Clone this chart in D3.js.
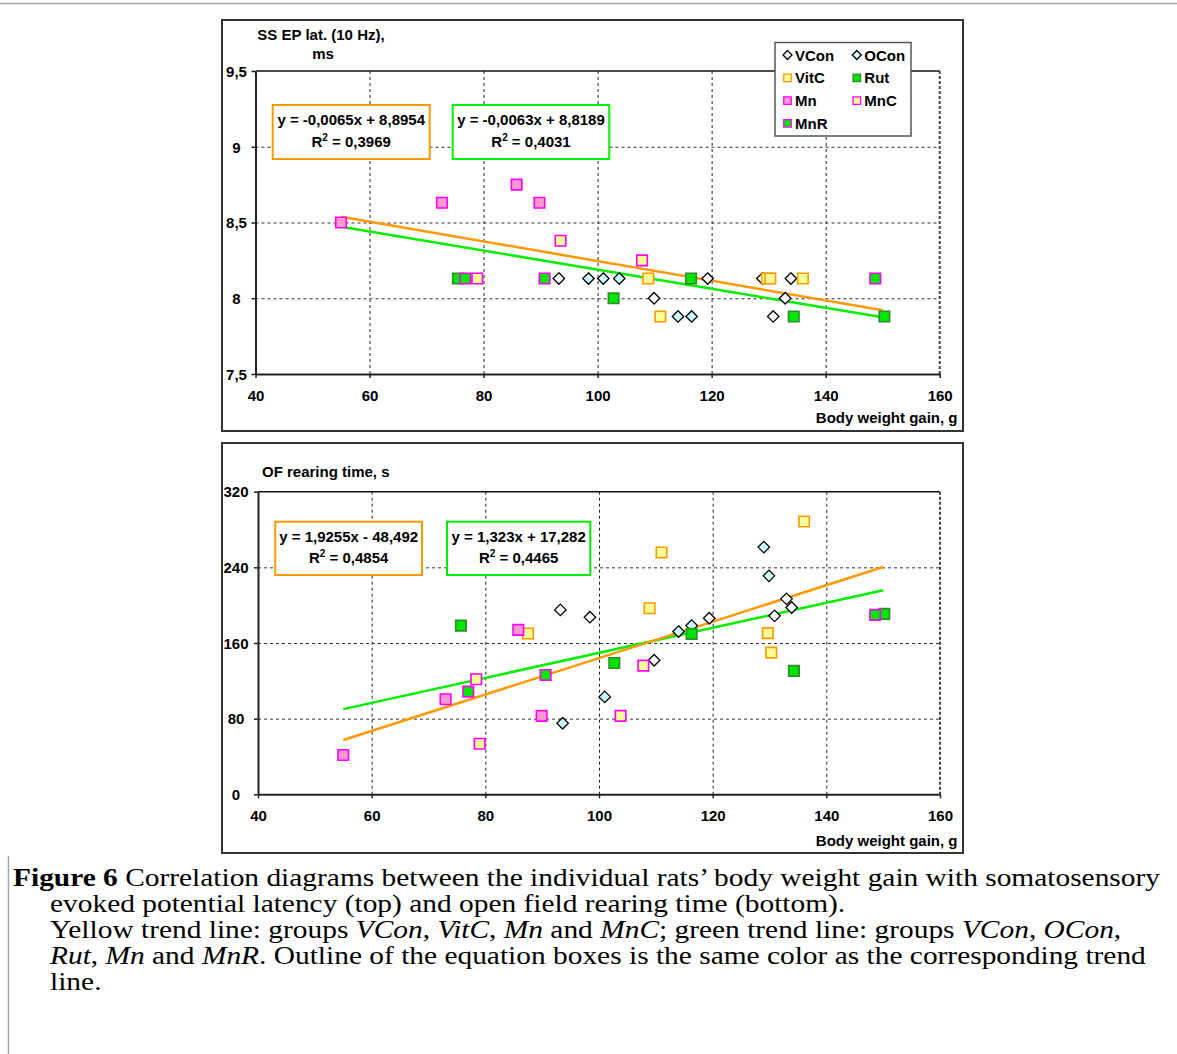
<!DOCTYPE html>
<html>
<head>
<meta charset="utf-8">
<script src="https://cdn.jsdelivr.net/npm/d3@7"></script>
<style>
  html, body { margin: 0; padding: 0; background: #fff; }
  svg { display: block; }
</style>
</head>
<body>
<svg id="fig" width="1177" height="1054"></svg>
<script>
// ---- data: [body weight gain (g), value] per group ----
// Top panel: SS EP latency (10 Hz), ms
const latVCon = [[93.2, 8.13], [119.3, 8.13], [128.9, 8.13], [133.9, 8.13], [109.9, 8.0], [132.9, 8.0], [130.8, 7.88]];
const latOCon = [[98.4, 8.13], [101.0, 8.13], [103.8, 8.13], [114.1, 7.88], [116.5, 7.88]];
const latVitC = [[108.9, 8.13], [129.7, 8.13], [130.3, 8.13], [136.0, 8.13], [111.0, 7.88]];
const latRut  = [[75.5, 8.13], [116.4, 8.13], [102.8, 8.0], [134.4, 7.88], [150.3, 7.88]];
const latMn   = [[55.0, 8.5], [72.7, 8.63], [85.8, 8.75], [89.8, 8.63]];
const latMnC  = [[78.9, 8.13], [93.5, 8.38], [107.8, 8.25]];
const latMnR  = [[76.8, 8.13], [90.7, 8.13], [148.7, 8.13]];

// Bottom panel: OF rearing time, s
const rearVCon = [[93.2, 195], [98.4, 187.3], [109.7, 141.8], [119.4, 186.2], [130.9, 188.7], [133.0, 206.7], [133.9, 197.5]];
const rearOCon = [[93.6, 75.1], [101.0, 103], [114.0, 172.1], [116.3, 178.4], [129.0, 261.4], [129.9, 231]];
const rearVitC = [[87.5, 170], [108.9, 196.8], [111.0, 255.7], [129.7, 170.4], [130.3, 149.8], [136.1, 288.5]];
const rearRut  = [[75.7, 178.4], [102.7, 138.9], [116.3, 169.6], [134.3, 130.5], [150.2, 190.8]];
const rearMn   = [[55.0, 41.6], [73.0, 100.5], [85.8, 173.9], [89.9, 82.9]];
const rearMnC  = [[78.4, 121.7], [79.0, 53.5], [103.8, 82.9], [107.8, 136.1]];
const rearMnR  = [[77.0, 108.6], [90.6, 126.2], [148.6, 189.7]];

// Linear trends [orange, green]: slope, intercept, labels
const latSlope = [-0.0065, -0.0063];
const latIntercept = [8.8954, 8.8189];
const latEquation = ["y = -0,0065x + 8,8954", "y = -0,0063x + 8,8189"];
const latR2 = ["0,3969", "0,4031"];
const rearSlope = [1.9255, 1.323];
const rearIntercept = [-48.492, 17.282];
const rearEquation = ["y = 1,9255x - 48,492", "y = 1,323x + 17,282"];
const rearR2 = ["0,4854", "0,4465"];
const trendSpan = [55, 150];

// Axis ticks
const xTicks = [40, 60, 80, 100, 120, 140, 160];
const latTicks = [7.5, 8, 8.5, 9, 9.5];
const rearTicks = [0, 80, 160, 240, 320];

const groups = ["VCon", "OCon", "VitC", "Rut", "Mn", "MnC", "MnR"];

// ---- styling ----
const ORANGE = "#ff9900", GREEN = "#00ee00";
const groupStyle = {
  VCon: { shape: "diamond", fill: "#ffffff", stroke: "#000000" },
  OCon: { shape: "diamond", fill: "#ccffff", stroke: "#000000" },
  VitC: { shape: "square", fill: "#ffff99", stroke: "#ff9900" },
  Rut:  { shape: "square", fill: "#00e600", stroke: "#2e8b2e" },
  Mn:   { shape: "square", fill: "#ff99cc", stroke: "#ff00ff" },
  MnC:  { shape: "square", fill: "#ffff99", stroke: "#ff00ff" },
  MnR:  { shape: "square", fill: "#00e600", stroke: "#ff00ff" }
};
const SANS = "'Liberation Sans', Arial, Helvetica, sans-serif";
const SERIF = "'Liberation Serif', 'Times New Roman', serif";
const commaNum = d => String(d).replace(".", ",");

const svg = d3.select("#fig");

// page rules
svg.append("line").attr("x1", 0).attr("x2", 1177).attr("y1", 3.5).attr("y2", 3.5)
  .attr("stroke", "#a8a8a8").attr("stroke-width", 1.5);
svg.append("line").attr("x1", 8.5).attr("x2", 8.5).attr("y1", 856).attr("y2", 1054)
  .attr("stroke", "#a8a8a8").attr("stroke-width", 1.5);

function markerPath(shape, size) {
  const h = size / 2;
  if (shape === "diamond") {
    // square turned by 45 degrees; size = tip-to-tip width
    return `M0,${-h}L${h},0L0,${h}L${-h},0Z`;
  }
  return `M${-h},${-h}H${h}V${h}H${-h}Z`;
}

function drawPanel(cfg) {
  const g = svg.append("g");
  const x = d3.scaleLinear().domain([40, 160]).range([cfg.left, cfg.right]);
  const y = d3.scaleLinear().domain([cfg.yTicks[0], cfg.yTicks[cfg.yTicks.length - 1]])
    .range([cfg.bottom, cfg.top]);

  // chart frame
  g.append("rect")
    .attr("x", cfg.frame[0]).attr("y", cfg.frame[1])
    .attr("width", cfg.frame[2] - cfg.frame[0]).attr("height", cfg.frame[3] - cfg.frame[1])
    .attr("fill", "#fff").attr("stroke", "#333").attr("stroke-width", 2);

  // dashed grid
  g.selectAll(".vgrid").data(xTicks.slice(1, -1)).join("line")
    .attr("x1", d => x(d) + 0.5).attr("x2", d => x(d) + 0.5)
    .attr("y1", cfg.top).attr("y2", cfg.bottom)
    .attr("stroke", "#222").attr("stroke-width", 1).attr("stroke-dasharray", "3,3");
  g.selectAll(".hgrid").data(cfg.yTicks.slice(1, -1)).join("line")
    .attr("x1", cfg.left).attr("x2", cfg.right)
    .attr("y1", d => y(d) + 0.5).attr("y2", d => y(d) + 0.5)
    .attr("stroke", "#333").attr("stroke-width", 1).attr("stroke-dasharray", "3,3");

  // plot area border: solid top, dashed right
  g.append("line").attr("x1", cfg.left).attr("x2", cfg.right)
    .attr("y1", cfg.top).attr("y2", cfg.top)
    .attr("stroke", "#111").attr("stroke-width", 1.5);
  g.append("line").attr("x1", cfg.right).attr("x2", cfg.right)
    .attr("y1", cfg.top).attr("y2", cfg.bottom)
    .attr("stroke", "#444").attr("stroke-width", 2).attr("stroke-dasharray", "3,2");

  // trend lines
  const trendColors = [ORANGE, GREEN];
  const lineGen = d3.line().x(d => x(d[0])).y(d => y(d[1]));
  [1, 0].forEach(i => {
    const pts = trendSpan.map(v => [v, cfg.slope[i] * v + cfg.intercept[i]]);
    g.append("path").attr("d", lineGen(pts))
      .attr("fill", "none").attr("stroke", trendColors[i]).attr("stroke-width", 2.5);
  });

  // points, group by group
  groups.forEach(name => {
    const st = groupStyle[name];
    const size = st.shape === "diamond" ? 11.5 : 10.5;
    g.selectAll(null).data(cfg.series[name]).join("path")
      .attr("transform", d => `translate(${x(d[0])},${y(d[1])})`)
      .attr("d", markerPath(st.shape, size))
      .attr("fill", st.fill).attr("stroke", st.stroke)
      .attr("stroke-width", st.shape === "diamond" ? 1.3 : 1.6);
  });

  // axes
  const yAxis = g.append("g").attr("transform", `translate(${cfg.left},0)`)
    .call(d3.axisLeft(y).tickValues(cfg.yTicks).tickSize(4).tickSizeOuter(0).tickFormat(commaNum));
  const xAxis = g.append("g").attr("transform", `translate(0,${cfg.bottom})`)
    .call(d3.axisBottom(x).tickValues(xTicks).tickSize(4).tickSizeOuter(0));
  [yAxis, xAxis].forEach(ax => {
    ax.select(".domain").attr("stroke", "#222").attr("stroke-width", 2);
    ax.selectAll(".tick line").attr("stroke", "#222").attr("stroke-width", 1.5);
    ax.selectAll("text").attr("fill", "#000")
      .style("font-family", SANS).style("font-size", "15px").style("font-weight", "bold");
  });
  yAxis.selectAll("text").attr("text-anchor", "middle").attr("x", cfg.yLabelX - cfg.left).attr("dy", "0.35em");
  xAxis.selectAll("text").attr("y", 27).attr("dy", null);

  // axis titles
  const title = g.append("g").style("font-family", SANS).style("font-size", "15px").style("font-weight", "bold");
  cfg.yTitle.forEach(t => {
    title.append("text").attr("x", t.x).attr("y", t.y).attr("text-anchor", t.anchor).text(t.text);
  });
  title.append("text").attr("x", 957.5).attr("y", cfg.xTitleY).attr("text-anchor", "end")
    .text("Body weight gain, g");

  // equation boxes
  cfg.boxes.forEach((b, i) => {
    const bg = g.append("g");
    bg.append("rect").attr("x", b.x0).attr("y", b.y0)
      .attr("width", b.x1 - b.x0).attr("height", b.y1 - b.y0)
      .attr("fill", "#fff").attr("stroke", trendColors[i]).attr("stroke-width", 2);
    const cx = (b.x0 + b.x1) / 2;
    const t = bg.append("g").style("font-family", SANS).style("font-size", "15px").style("font-weight", "bold");
    t.append("text").attr("x", cx).attr("y", b.y0 + 20).attr("text-anchor", "middle").text(cfg.equation[i]);
    const r = t.append("text").attr("x", cx).attr("y", b.y0 + 41.5).attr("text-anchor", "middle");
    r.append("tspan").text("R");
    r.append("tspan").attr("dy", -6).style("font-size", "10px").text("2");
    r.append("tspan").attr("dy", 6).text(" = " + cfg.r2[i]);
  });

  return g;
}

drawPanel({
  frame: [222, 20, 963, 431],
  left: 255.5, right: 939.7, top: 71, bottom: 374,
  yTicks: latTicks, yLabelX: 236.5,
  slope: latSlope, intercept: latIntercept, equation: latEquation, r2: latR2,
  series: { VCon: latVCon, OCon: latOCon, VitC: latVitC, Rut: latRut, Mn: latMn, MnC: latMnC, MnR: latMnR },
  yTitle: [
    { text: "SS EP lat. (10 Hz),", x: 321, y: 39.5, anchor: "middle" },
    { text: "ms", x: 323, y: 58.5, anchor: "middle" }
  ],
  xTitleY: 422.5,
  boxes: [
    { x0: 272.7, y0: 105, x1: 429.7, y1: 159 },
    { x0: 452.7, y0: 105, x1: 609.3, y1: 159 }
  ]
});

drawPanel({
  frame: [222, 443, 963, 853],
  left: 258, right: 940, top: 491.7, bottom: 794.3,
  yTicks: rearTicks, yLabelX: 236,
  slope: rearSlope, intercept: rearIntercept, equation: rearEquation, r2: rearR2,
  series: { VCon: rearVCon, OCon: rearOCon, VitC: rearVitC, Rut: rearRut, Mn: rearMn, MnC: rearMnC, MnR: rearMnR },
  yTitle: [
    { text: "OF rearing time, s", x: 262, y: 477, anchor: "start" }
  ],
  xTitleY: 845.5,
  boxes: [
    { x0: 275.3, y0: 521.7, x1: 422, y1: 575 },
    { x0: 447, y0: 521.7, x1: 590.3, y1: 575 }
  ]
});

// legend (top panel)
const legend = svg.append("g");
legend.append("rect").attr("x", 775).attr("y", 42.5).attr("width", 136).attr("height", 93.5)
  .attr("fill", "#fff").attr("stroke", "#555").attr("stroke-width", 1.5);
groups.forEach((name, i) => {
  const col = i % 2, row = Math.floor(i / 2);
  const mx = 787.5 + col * 69.3, my = 55 + row * 22.8;
  const st = groupStyle[name];
  legend.append("path")
    .attr("transform", `translate(${mx},${my})`)
    .attr("d", markerPath(st.shape, st.shape === "diamond" ? 9 : 7.5))
    .attr("fill", st.fill).attr("stroke", st.stroke).attr("stroke-width", 1.3);
  legend.append("text").attr("x", mx + 7.5).attr("y", my + 5.5)
    .style("font-family", SANS).style("font-size", "15px").style("font-weight", "bold")
    .text(name);
});

// caption
const captionLines = [
  { x: 13, parts: [["Figure 6", "bold"], [" Correlation diagrams between the individual rats\u2019 body weight gain with somatosensory", ""]] },
  { x: 50, parts: [["evoked potential latency (top) and open field rearing time (bottom).", ""]] },
  { x: 50, parts: [["Yellow trend line: groups ", ""], ["VCon", "italic"], [", ", ""], ["VitC", "italic"], [", ", ""], ["Mn", "italic"], [" and ", ""], ["MnC", "italic"], ["; green trend line: groups ", ""], ["VCon", "italic"], [", ", ""], ["OCon", "italic"], [",", ""]] },
  { x: 50, parts: [["Rut", "italic"], [", ", ""], ["Mn", "italic"], [" and ", ""], ["MnR", "italic"], [". Outline of the equation boxes is the same color as the corresponding trend", ""]] },
  { x: 50, parts: [["line.", ""]] }
];
const caption = svg.append("g").style("font-family", SERIF).style("font-size", "25px").attr("fill", "#000");
const capTexts = captionLines.map((ln, i) => {
  const t = caption.append("text").attr("x", ln.x).attr("y", 886 + i * 26)
    .attr("xml:space", "preserve");
  ln.parts.forEach(([s, st]) => {
    const ts = t.append("tspan").text(s);
    if (st === "bold") ts.style("font-weight", "bold");
    if (st === "italic") ts.style("font-style", "italic");
  });
  return t;
});
// stretch every line by the factor that brings the first line to the full text-block width
const stretch = 1147 / capTexts[0].node().getComputedTextLength();
capTexts.forEach(t => {
  const w = t.node().getComputedTextLength();
  t.attr("textLength", (w * stretch).toFixed(1)).attr("lengthAdjust", "spacingAndGlyphs");
});
</script>
</body>
</html>
